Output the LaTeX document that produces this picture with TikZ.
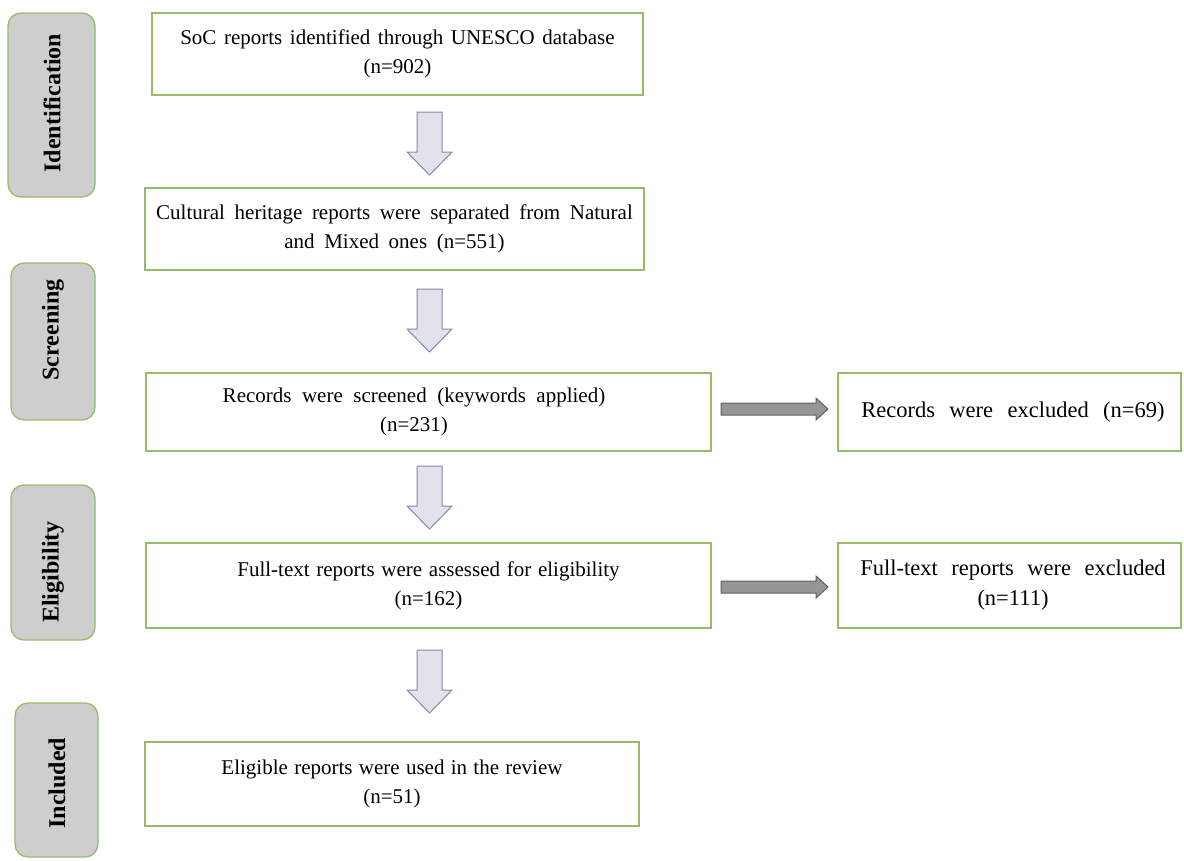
\documentclass[tikz,border=0pt]{standalone}
\usepackage{fontspec}
\setmainfont{Liberation Serif}
\definecolor{boxgreen}{RGB}{150,188,105}
\definecolor{sidegray}{RGB}{207,206,206}
\definecolor{dfill}{RGB}{226,226,234}
\definecolor{dline}{RGB}{128,138,168}
\definecolor{rfill}{RGB}{150,150,150}
\definecolor{rline}{RGB}{95,95,95}
\newcommand{\wsp}[1]{\spaceskip #1\relax}
\begin{document}
\begin{tikzpicture}[x=1pt,y=-1pt,
  box/.style={draw=boxgreen, line width=1.3pt, fill=white, align=center, inner sep=0pt,
    font=\fontsize{21}{29}\selectfont},
  sp/.style={font={\fontsize{21}{29}\selectfont\wsp{#1}}},
  bigsp/.style={font={\fontsize{22.5}{30}\selectfont\wsp{#1}}},
  txt/.style={align=center, inner sep=0pt},
  side/.style={draw=boxgreen, line width=1.3pt, fill=sidegray, rounded corners=13pt, inner sep=0pt},
  sidelabel/.style={rotate=90, font=\fontsize{24}{28}\selectfont\bfseries, inner sep=0pt},
  downblk/.pic={\draw[draw=dline, fill=dfill, line width=1pt, line join=miter]
    (-12.5,0) -- (12.5,0) -- (12.5,40) -- (22.5,40) -- (0,63) -- (-22.5,40) -- (-12.5,40) -- cycle;},
  rightblk/.pic={\draw[draw=rline, fill=rfill, line width=1pt, line join=miter]
    (0,-6) -- (95,-6) -- (95,-11) -- (107,0) -- (95,11) -- (95,6) -- (0,6) -- cycle;}
]
\useasboundingbox (0,0) rectangle (1184,860);

% side boxes
\node[side, minimum width=87pt, minimum height=184pt] (ident) at (51.5,105) {};
\node[sidelabel] (identL) at (52,103) {Identification};
\node[side, minimum width=84pt, minimum height=157pt] (screen) at (53,341.5) {};
\node[sidelabel] (screenL) at (53,330) {Screening};
\node[side, minimum width=84pt, minimum height=155pt] (elig) at (53,562.5) {};
\node[sidelabel] (eligL) at (53,572) {Eligibility};
\node[side, minimum width=83pt, minimum height=154pt] (incl) at (56.5,780) {};
\node[sidelabel] (inclL) at (57,783) {Included};

% main boxes
\node[box, sp=0.36em, minimum width=491pt, minimum height=82pt] (b1) at (397.5,54)
  {SoC reports identified through UNESCO database\\(n=902)};
\node[box, sp=0.46em, minimum width=499pt, minimum height=82pt] (b2) at (394.5,229)
  {Cultural heritage reports were separated from Natural\\and Mixed ones (n=551)};
\node[box, minimum width=565pt, minimum height=78pt] (b3) at (428.5,412) {};
\node[txt, sp=0.5em] (b3t) at (414,412)
  {Records were screened (keywords applied)\\(n=231)};
\node[box, sp=0.32em, minimum width=565pt, minimum height=85pt] (b4) at (428.5,585.5)
  {Full-text reports were assessed for eligibility\\(n=162)};
\node[box, sp=0.3em, minimum width=494pt, minimum height=84pt] (b5) at (392,784)
  {Eligible reports were used in the review\\(n=51)};
\node[box, minimum width=343pt, minimum height=78pt] (r1) at (1009.5,412) {};
\node[txt, bigsp=0.64em] (r1t) at (1013,412) {Records were excluded (n=69)};
\node[box, minimum width=343pt, minimum height=85pt] (r2) at (1009.5,585.5) {};
\node[txt, bigsp=0.6em] (r2t) at (1013,585.5)
  {Full-text reports were excluded\\(n=111)};

% block arrows
\coordinate (d1) at (429.5,112);
\coordinate (d2) at (429.5,289);
\coordinate (d3) at (429.5,466);
\coordinate (d4) at (429.5,650);
\pic at (d1) {downblk};
\pic at (d2) {downblk};
\pic at (d3) {downblk};
\pic at (d4) {downblk};
\coordinate (e1) at (721,409);
\coordinate (e2) at (721,587);
\pic at (e1) {rightblk};
\pic at (e2) {rightblk};
\end{tikzpicture}
\end{document}
